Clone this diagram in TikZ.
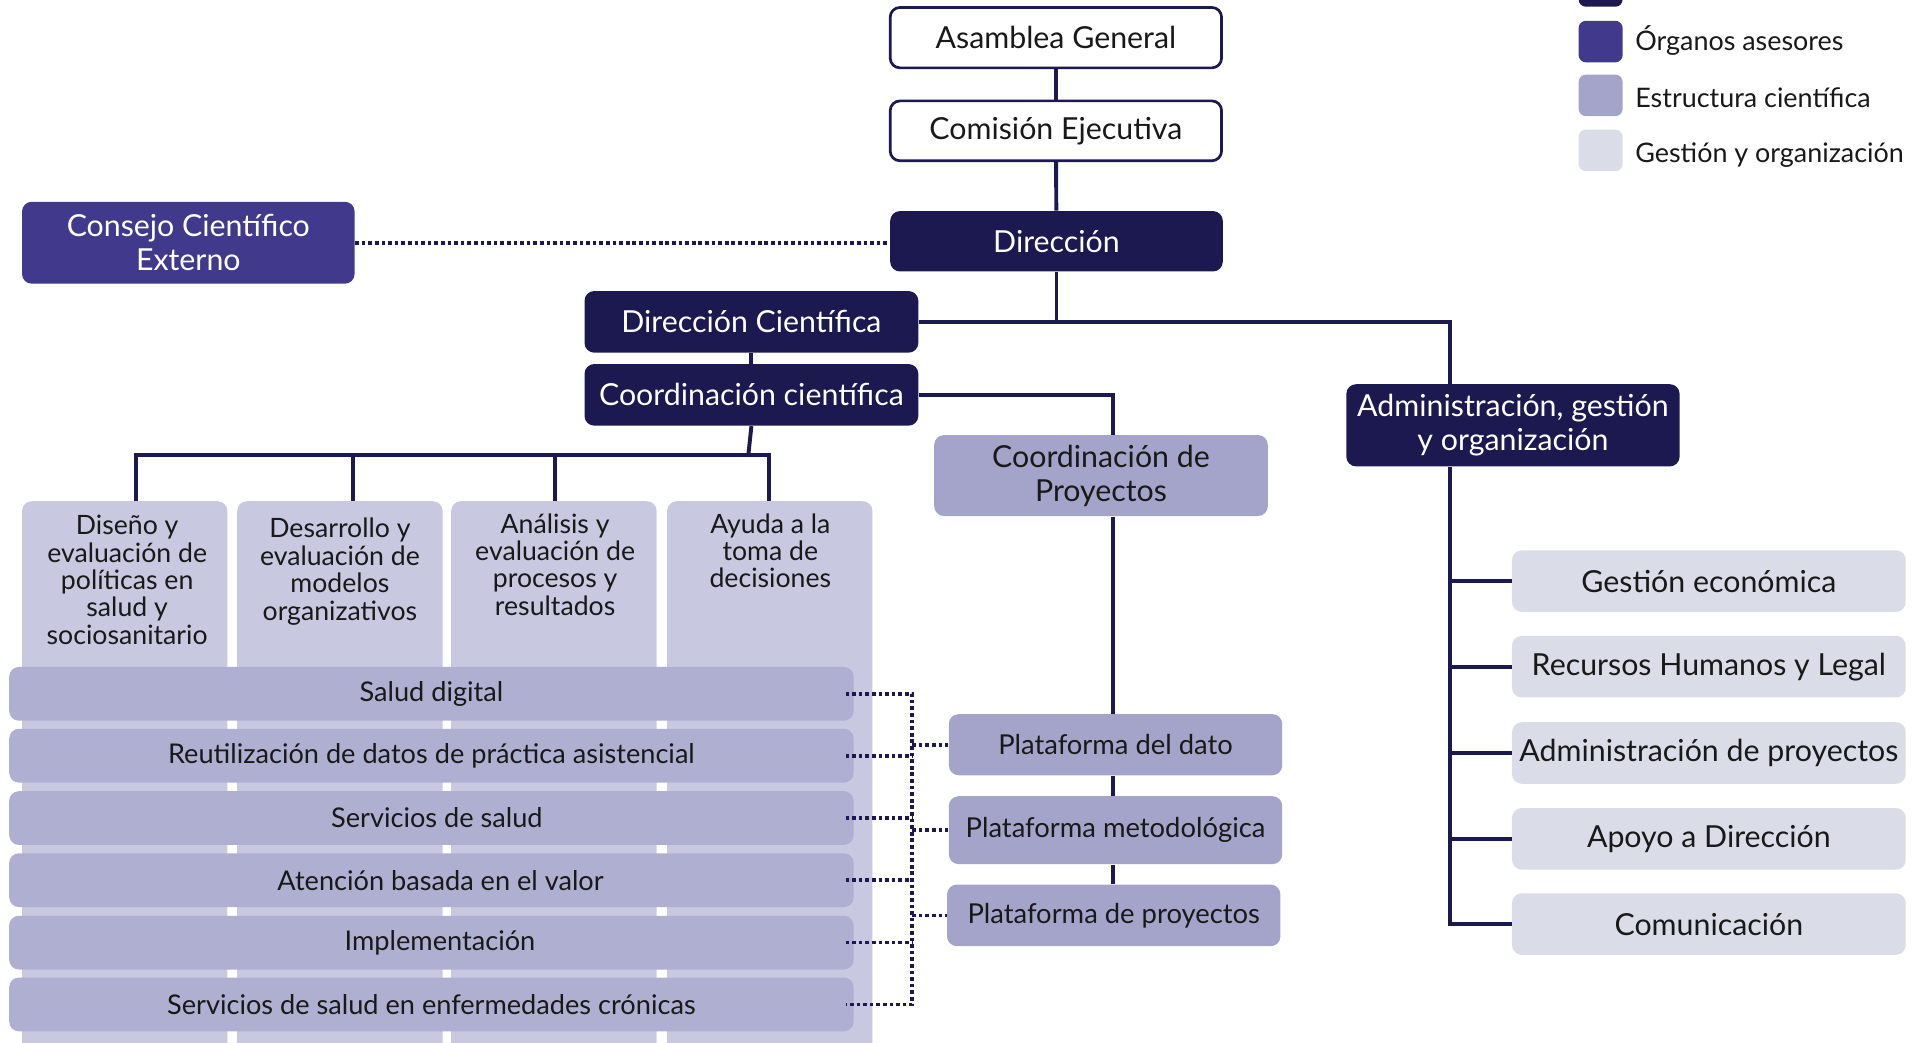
\documentclass[tikz,border=0pt]{standalone}
\usepackage{fontspec}
\setmainfont{Lato}
\usetikzlibrary{calc}
\definecolor{navy}{RGB}{28,24,80}
\definecolor{asesor}{RGB}{65,58,140}
\definecolor{cient}{RGB}{164,164,202}
\definecolor{gest}{RGB}{218,220,232}
\definecolor{colf}{RGB}{200,200,225}
\definecolor{rowf}{RGB}{175,175,210}
\definecolor{txt}{RGB}{25,25,25}
\tikzset{
  box/.style={rounded corners=4pt, inner sep=0pt, align=center, font=\fontsize{12.4}{14}\selectfont},
  govbox/.style={box, draw=navy, line width=1.1pt, fill=white, text=txt},
  dirbox/.style={box, fill=navy, text=white},
  advbox/.style={box, fill=asesor, text=white},
  scibox/.style={box, fill=cient, text=txt},
  mgmtbox/.style={box, fill=gest, text=txt, minimum width=161pt, minimum height=25.2pt},
  platbox/.style={box, fill=cient, text=txt, font=\fontsize{11.2}{13}\selectfont, minimum width=136.3pt},
  colbox/.style={rounded corners=4pt, fill=colf, inner sep=0pt, minimum width=84pt, minimum height=235pt, anchor=north},
  coltext/.style={align=center, inner sep=0pt, anchor=north, text=txt, font=\fontsize{10.9}{11.2}\selectfont},
  rowbox/.style={rounded corners=4pt, fill=rowf, inner sep=0pt, text=txt, minimum width=345.3pt, minimum height=22pt, font=\fontsize{11.1}{12}\selectfont},
  legsq/.style={rounded corners=3pt, inner sep=0pt, minimum width=18pt, minimum height=17pt},
  legtext/.style={anchor=west, inner sep=0pt, text=txt, font=\fontsize{11}{12}\selectfont},
  conn/.style={draw=navy, line width=1.6pt},
  dotconn/.style={draw=navy, line width=1.5pt, dash pattern=on 1.5pt off 1.2pt}
}
\begin{document}
\begin{tikzpicture}[x=0.5pt,y=-0.5pt]
\useasboundingbox (0,0) rectangle (1566.1,852.2);
\clip (0,0) rectangle (1566.1,852.2);

% legend
\node[legsq, fill=navy, minimum height=17pt] (lg0) at (1309,-11.5) {};
\node[legsq, fill=asesor] (lg1) at (1309,34) {};
\node[legsq, fill=cient] (lg2) at (1309,78) {};
\node[legsq, fill=gest] (lg3) at (1309,123) {};
\node[legtext] (lt1) at (1337,33) {Órganos asesores};
\node[legtext] (lt2) at (1337,80) {Estructura científica};
\node[legtext] (lt3) at (1337,127) {Gestión y organización};

% governance
\node[govbox, minimum width=135.5pt, minimum height=24.7pt] (asamblea) at (863.5,30.8) {Asamblea General};
\node[govbox, minimum width=135.5pt, minimum height=24.5pt] (comision) at (863.5,107) {Comisión Ejecutiva};
\node[dirbox, minimum width=136pt, minimum height=24.7pt] (direccion) at (864,197.3) {Dirección};
\node[advbox, minimum width=136pt, minimum height=33.5pt] (consejo) at (154,198.5) {Consejo Científico\\Externo};
\node[dirbox, minimum width=136.5pt, minimum height=25.2pt] (dircient) at (614.5,263.2) {Dirección Científica};
\node[dirbox, minimum width=136.5pt, minimum height=25.2pt] (coordcient) at (614.5,322.9) {Coordinación científica};
\node[scibox, minimum width=136.4pt, minimum height=33.1pt] (coordproy) at (900.4,388.9) {Coordinación de\\Proyectos};
\node[dirbox, minimum width=136.3pt, minimum height=33.6pt] (admin) at (1237.3,347.8) {Administración, gestión\\y organización};

% platforms
\node[platbox, minimum height=25pt] (plat1) at (912.3,609) {Plataforma del dato};
\node[platbox, minimum height=27.8pt] (plat2) at (912.3,678.9) {Plataforma metodológica};
\node[platbox, minimum height=25.2pt] (plat3) at (910.8,748.6) {Plataforma de proyectos};

% management
\node[mgmtbox] (sub1) at (1397.5,475.2) {Gestión económica};
\node[mgmtbox] (sub2) at (1397.5,545.2) {Recursos Humanos y Legal};
\node[mgmtbox] (sub3) at (1397.5,615.8) {Administración de proyectos};
\node[mgmtbox] (sub4) at (1397.5,686) {Apoyo a Dirección};
\node[mgmtbox] (sub5) at (1397.5,755.7) {Comunicación};

% columns
\node[colbox] (col1) at (102,409.5) {};
\node[colbox] (col2) at (278,409.5) {};
\node[colbox] (col3) at (453,409.5) {};
\node[colbox] (col4) at (629.5,409.5) {};
\node[coltext] (col1t) at (104,421) {Diseño y\\evaluación de\\políticas en\\salud y\\sociosanitario};
\node[coltext] (col2t) at (278,423.5) {Desarrollo y\\evaluación de\\modelos\\organizativos};
\node[coltext] (col3t) at (454,419.5) {Análisis y\\evaluación de\\procesos y\\resultados};
\node[coltext] (col4t) at (630,419.5) {Ayuda a la\\toma de\\decisiones};

% rows
\node[rowbox] (r1) at (352.8,567.4) {Salud digital};
\node[rowbox] (r2) at (352.8,618) {Reutilización de datos de práctica asistencial};
\node[rowbox] (r3) at (352.8,669) {\hspace*{4.5pt}Servicios de salud};
\node[rowbox] (r4) at (352.8,719.8) {\hspace*{7.5pt}Atención basada en el valor};
\node[rowbox] (r5) at (352.8,770.9) {\hspace*{7pt}Implementación};
\node[rowbox] (r6) at (352.8,821.4) {Servicios de salud en enfermedades crónicas};

% coordinates
\coordinate (aj) at (1186,314.1);
\coordinate (pj) at (910.5,355.8);
\coordinate (bar) at (612,372);
\coordinate (d1) at (111,409.5);
\coordinate (d2) at (288.5,409.5);
\coordinate (d3) at (454,409.5);
\coordinate (d4) at (629,409.5);
\coordinate (bx) at (746,0);

% solid connectors
\draw[conn] (asamblea) -- (comision);
\draw[conn] (comision) -- (direccion);
\draw[conn] (direccion.south) -- (direccion.south |- dircient.east);
\draw[conn] (dircient.east) -| (aj);
\draw[conn] (dircient) -- (coordcient);
\draw[conn] (coordcient.east) -| (pj);
\draw[conn] (coordcient.south) -- (bar);
\draw[conn] (d1) |- (bar);
\draw[conn] (d4) |- (bar);
\draw[conn] (d2) -- (d2 |- bar);
\draw[conn] (d3) -- (d3 |- bar);
\draw[conn] (coordproy.south -| pj) -- (plat1.north -| pj);
\draw[conn] (plat1.south -| pj) -- (plat2.north -| pj);
\draw[conn] (plat2.south -| pj) -- (plat3.north -| pj);
\draw[conn] (admin.south -| aj) -- (aj |- sub5.west) -- (sub5.west);
\draw[conn] (aj |- sub1.west) -- (sub1.west);
\draw[conn] (aj |- sub2.west) -- (sub2.west);
\draw[conn] (aj |- sub3.west) -- (sub3.west);
\draw[conn] (aj |- sub4.west) -- (sub4.west);

% dotted connectors
\draw[dotconn] (consejo.east) -- (consejo.east -| direccion.west);
\draw[dotconn] ([xshift=-3.5pt]r1.east) -- (r1.east -| bx) -- (r6.east -| bx) -- ([xshift=-3.5pt]r6.east);
\draw[dotconn] ([xshift=-3.5pt]r2.east) -- (r2.east -| bx);
\draw[dotconn] ([xshift=-3.5pt]r3.east) -- (r3.east -| bx);
\draw[dotconn] ([xshift=-3.5pt]r4.east) -- (r4.east -| bx);
\draw[dotconn] ([xshift=-3.5pt]r5.east) -- (r5.east -| bx);
\draw[dotconn] (plat1.west -| bx) -- (plat1.west);
\draw[dotconn] (plat2.west -| bx) -- (plat2.west);
\draw[dotconn] (plat3.west -| bx) -- (plat3.west);
\end{tikzpicture}
\end{document}
